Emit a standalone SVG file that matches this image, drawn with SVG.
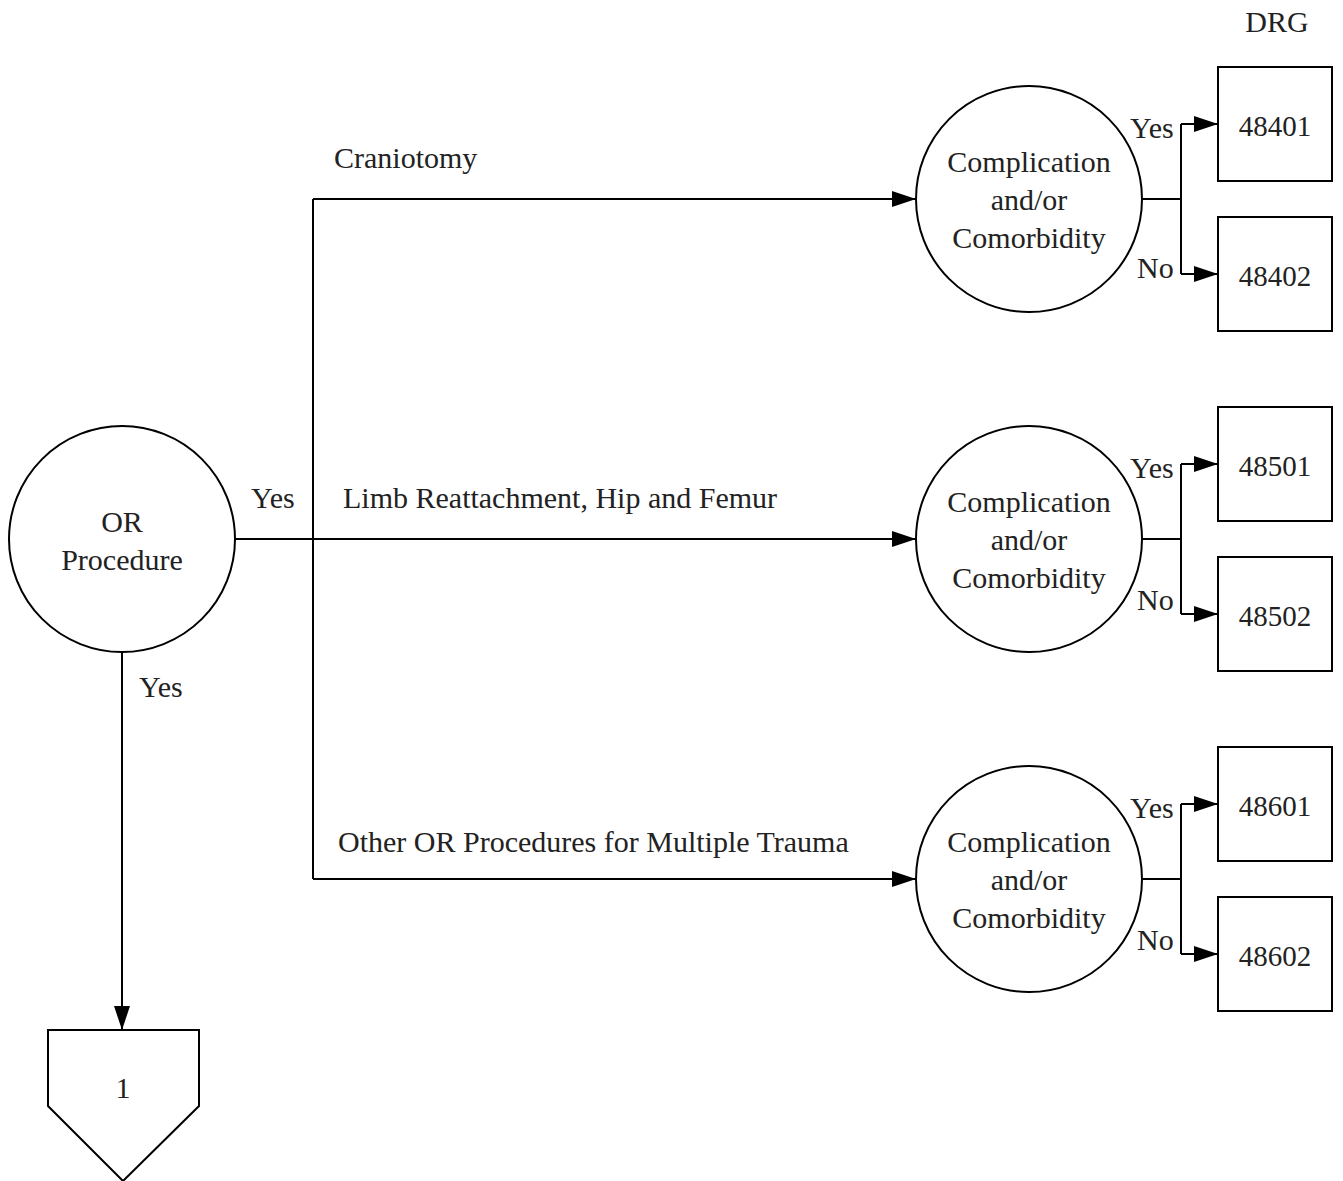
<svg xmlns="http://www.w3.org/2000/svg" width="1343" height="1181" viewBox="0 0 1343 1181">
<style>
text{font-family:"Liberation Serif","Times New Roman",serif;font-size:30px;fill:#222;}
.c{text-anchor:middle;}
.d{font-size:29px;}
.n{fill:#fff;stroke:#000;stroke-width:2;}
.l{fill:none;stroke:#000;stroke-width:2;}
</style>
<defs>
<marker id="ah" markerWidth="24" markerHeight="16" refX="24" refY="8" orient="auto" markerUnits="userSpaceOnUse">
<path d="M0,0 L24,8 L0,16 Z" fill="#000"/>
</marker>
</defs>
<rect width="1343" height="1181" fill="#fff"/>
<g id="connectors">
<path class="l" d="M122,652 V1030" marker-end="url(#ah)"/>
<path class="l" d="M235,539 H916" marker-end="url(#ah)"/>
<path class="l" d="M313,199 V879"/>
<path class="l" d="M313,199 H916" marker-end="url(#ah)"/>
<path class="l" d="M313,879 H916" marker-end="url(#ah)"/>
<path class="l" d="M1142,199 H1181"/>
<path class="l" d="M1181,124 V274"/>
<path class="l" d="M1181,124 H1218" marker-end="url(#ah)"/>
<path class="l" d="M1181,274 H1218" marker-end="url(#ah)"/>
<path class="l" d="M1142,539 H1181"/>
<path class="l" d="M1181,464 V614"/>
<path class="l" d="M1181,464 H1218" marker-end="url(#ah)"/>
<path class="l" d="M1181,614 H1218" marker-end="url(#ah)"/>
<path class="l" d="M1142,879 H1181"/>
<path class="l" d="M1181,804 V954"/>
<path class="l" d="M1181,804 H1218" marker-end="url(#ah)"/>
<path class="l" d="M1181,954 H1218" marker-end="url(#ah)"/>
<text x="251" y="508">Yes</text>
<text x="139" y="697">Yes</text>
<text x="334" y="168">Craniotomy</text>
<text x="343" y="508">Limb Reattachment, Hip and Femur</text>
<text x="338" y="852">Other OR Procedures for Multiple Trauma</text>
<text x="1130" y="138">Yes</text>
<text x="1137" y="278">No</text>
<text x="1130" y="478">Yes</text>
<text x="1137" y="610">No</text>
<text x="1130" y="818">Yes</text>
<text x="1137" y="950">No</text>
</g>
<text x="1277" y="32" class="c">DRG</text>
<g id="or">
<circle class="n" cx="122" cy="539" r="113"/>
<text x="122" y="532" class="c">OR</text>
<text x="122" y="570" class="c">Procedure</text>
</g>
<g id="cc1">
<circle class="n" cx="1029" cy="199" r="113"/>
<text x="1029" y="172" class="c">Complication</text>
<text x="1029" y="210" class="c">and/or</text>
<text x="1029" y="248" class="c">Comorbidity</text>
</g>
<g id="cc2">
<circle class="n" cx="1029" cy="539" r="113"/>
<text x="1029" y="512" class="c">Complication</text>
<text x="1029" y="550" class="c">and/or</text>
<text x="1029" y="588" class="c">Comorbidity</text>
</g>
<g id="cc3">
<circle class="n" cx="1029" cy="879" r="113"/>
<text x="1029" y="852" class="c">Complication</text>
<text x="1029" y="890" class="c">and/or</text>
<text x="1029" y="928" class="c">Comorbidity</text>
</g>
<g id="d48401"><rect class="n" x="1218" y="67" width="114" height="114"/><text x="1275" y="136" class="c d">48401</text></g>
<g id="d48402"><rect class="n" x="1218" y="217" width="114" height="114"/><text x="1275" y="286" class="c d">48402</text></g>
<g id="d48501"><rect class="n" x="1218" y="407" width="114" height="114"/><text x="1275" y="476" class="c d">48501</text></g>
<g id="d48502"><rect class="n" x="1218" y="557" width="114" height="114"/><text x="1275" y="626" class="c d">48502</text></g>
<g id="d48601"><rect class="n" x="1218" y="747" width="114" height="114"/><text x="1275" y="816" class="c d">48601</text></g>
<g id="d48602"><rect class="n" x="1218" y="897" width="114" height="114"/><text x="1275" y="966" class="c d">48602</text></g>
<g id="off1">
<path class="n" d="M48,1030 H199 V1106 L123,1181 L48,1106 Z"/>
<text x="123" y="1098" class="c">1</text>
</g>
</svg>
